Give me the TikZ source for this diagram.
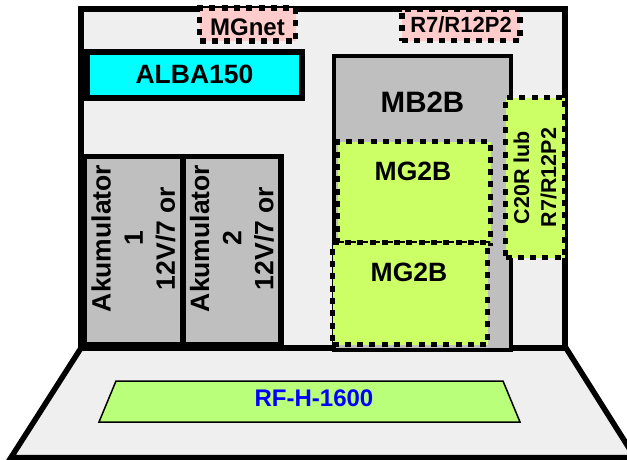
\documentclass[tikz,border=0pt]{standalone}
\usepackage{fontspec}
\setmainfont{Liberation Sans}
\definecolor{casegray}{HTML}{EFEFEF}
\definecolor{modgray}{HTML}{BFBFBF}
\definecolor{albacyan}{HTML}{00FFFF}
\definecolor{netpink}{HTML}{FFCCCC}
\definecolor{mglime}{HTML}{CCFF66}
\definecolor{rfgreen}{HTML}{B9FF7A}
\usetikzlibrary{positioning}

\newcommand{\fs}[1]{\fontsize{#1}{\dimexpr #1pt*5/4\relax}\bfseries\selectfont}

\begin{document}
\begin{tikzpicture}[
  x=1pt, y=-1pt,
  box/.style={draw=black, fill=#1, line width=5.5pt, inner sep=0pt, outer sep=0pt, anchor=north west},
  dotbox/.style={draw=black, fill=#1, line width=5.5pt, dash pattern=on 6pt off 6.3pt, inner sep=0pt, outer sep=0pt, anchor=north west},
  lbl/.style={font=\fs{#1}, inner sep=0pt, align=center}
]
  \useasboundingbox (0,0) rectangle (627,459);
  \clip (0,0) rectangle (627,459);

  % Floor and back wall
  \draw[fill=casegray, line width=5.5pt, line join=miter] (81,348) -- (566,348) -- (635,457.5) -- (11,457.5) -- cycle;
  \node[box=casegray, minimum width=484pt, minimum height=339pt] (wall) at (81,9) {};

  % Top tier
  \node[dotbox=netpink, minimum width=96pt, minimum height=33pt] (mgnet) at (199.5,8) {};
  \node[lbl=24, yshift=-2.5pt] at (mgnet.center) {MGnet};
  \node[dotbox=netpink, minimum width=118pt, minimum height=31pt] (r7) at (402,9.5) {};
  \node[lbl=22] at (r7.center) {R7/R12P2};
  \node[box=albacyan, minimum width=215pt, minimum height=46pt] (alba) at (87,52) {};
  \node[lbl=26.5, yshift=1pt] at (alba.center) {ALBA150};

  % Batteries
  \node[box=modgray, minimum width=99pt, minimum height=188pt] (bat1) at (84,156.5) {};
  \node[box=modgray, minimum width=98pt, minimum height=188pt] (bat2) at (183,156.5) {};
  \node[lbl=26.5, rotate=90, below=85pt of bat1.north, xshift=3pt, anchor=center] {Akumulator\\[-1pt]1\\[-1pt]12V/7 or};
  \node[lbl=26.5, rotate=90, below=85pt of bat2.north, xshift=3pt, anchor=center] {Akumulator\\[-1pt]2\\[-1pt]12V/7 or};

  % Modules
  \node[box=modgray, line width=4pt, minimum width=177pt, minimum height=294pt] (mb) at (334,56) {};
  \node[lbl=29.5, below=36pt of mb.north] {MB2B};
  \node[dotbox=mglime, minimum width=153pt, minimum height=102pt] (mga) at (337.5,141.5) {};
  \node[lbl=26.5, below=20pt of mga.north, xshift=-1pt] {MG2B};
  \node[dotbox=mglime, minimum width=155pt, minimum height=102pt] (mgb) at (332.5,242.5) {};
  \node[lbl=26.5, below=20pt of mgb.north, xshift=-1pt] {MG2B};
  \node[dotbox=mglime, minimum width=59pt, minimum height=160pt] (cxx) at (505.5,97.5) {};
  \node[lbl=21.5, rotate=90] at (cxx.center) {C20R lub\\R7/R12P2};

  % RF deck
  \draw[fill=rfgreen, line width=1.5pt] (116,381) -- (503,381) -- (520,422) -- (99,422) -- cycle;
  \node[lbl=24, text=blue] (rf) at (314,398) {RF-H-1600};
\end{tikzpicture}
\end{document}
